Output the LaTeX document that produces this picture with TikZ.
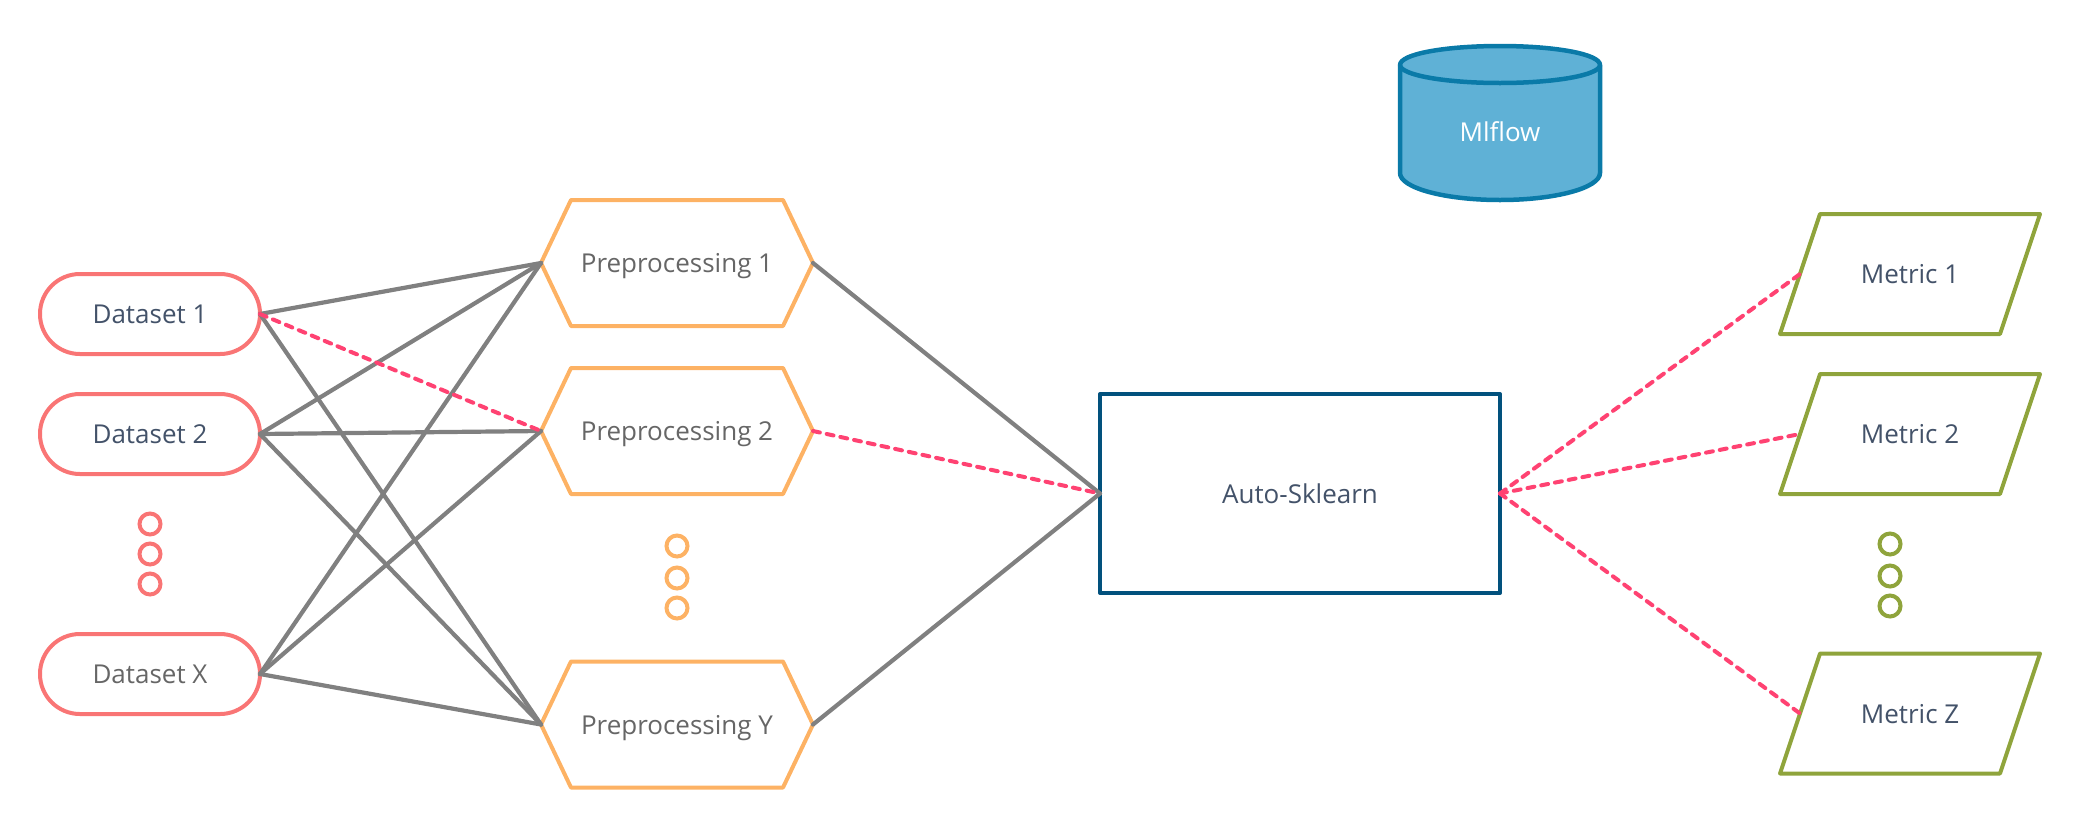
\documentclass[tikz,border=0pt]{standalone}
\usepackage{fontspec}
\setmainfont{Open Sans}
\usetikzlibrary{shapes.symbols}
\definecolor{cred}{HTML}{F97575}
\definecolor{corange}{HTML}{FDB264}
\definecolor{cgreen}{HTML}{8FA43C}
\definecolor{cnavy}{HTML}{02517D}
\definecolor{cblue}{HTML}{0A7AA8}
\definecolor{cbluefill}{HTML}{5FB1D6}
\definecolor{cgray}{HTML}{808080}
\definecolor{cpink}{HTML}{FF4272}
\definecolor{tslate}{HTML}{435269}
\definecolor{tgray}{HTML}{666666}
\tikzset{
  base/.style={line width=4pt,line join=round,inner sep=0pt,outer sep=0pt,font=\fontsize{26}{30}\selectfont,text height=19pt,text depth=0pt,text=tslate},
  databox/.style={base,draw=cred,rectangle,rounded corners=39.9pt,minimum width=220pt,minimum height=80pt},
  prepbox/.style={base,draw=corange,signal,signal to=east and west,signal pointer angle=129.1,minimum width=272pt,minimum height=126pt,text=tgray},
  metricbox/.style={base,rectangle,minimum width=220pt,minimum height=120pt},
  metricline/.style={line width=4pt,line join=round,draw=cgreen},
  mainbox/.style={base,draw=cnavy,rectangle,minimum width=400pt,minimum height=199pt},
  dotbox/.style={circle,line width=4pt,inner sep=0pt,outer sep=0pt,minimum size=21pt,draw=#1},
  solidlink/.style={line width=4.2pt,draw=cgray,line cap=round},
  dashlink/.style={line width=4pt,draw=cpink,line cap=round,dash pattern=on 7pt off 7pt},
}
\begin{document}
\begin{tikzpicture}[x=1pt,y=-1pt]
\useasboundingbox (0,0) rectangle (2080,828);
% cylinder
\filldraw[line width=4.5pt,draw=cblue,fill=cbluefill,line join=round]
  (1400,65) -- (1400,173) .. controls (1400,188) and (1445,200) .. (1500,200)
  .. controls (1555,200) and (1600,188) .. (1600,173) -- (1600,65)
  .. controls (1600,54) and (1555,46) .. (1500,46)
  .. controls (1445,46) and (1400,54) .. (1400,65) -- cycle;
\draw[line width=4.5pt,draw=cblue]
  (1400,65) .. controls (1400,75) and (1445,83) .. (1500,83)
  .. controls (1555,83) and (1600,75) .. (1600,65);
\node[base,text=white] (mlflow) at (1500,132) {Mlflow};
% datasets
\node[databox] (d1) at (150,314) {Dataset 1};
\node[databox] (d2) at (150,434) {Dataset 2};
\node[databox,text=tgray] (dx) at (150,674) {Dataset X};
\node[dotbox=cred] (dr1) at (150,524) {};
\node[dotbox=cred] (dr2) at (150,554) {};
\node[dotbox=cred] (dr3) at (150,584) {};
% preprocessing
\node[prepbox] (p1) at (677,263) {Preprocessing 1};
\node[prepbox] (p2) at (677,431) {Preprocessing 2};
\node[prepbox] (py) at (677,724.5) {Preprocessing Y};
\node[dotbox=corange] (do1) at (677,546) {};
\node[dotbox=corange] (do2) at (677,578) {};
\node[dotbox=corange] (do3) at (677,608) {};
% main
\node[mainbox] (auto) at (1300,493.5) {Auto-Sklearn};
% metrics
\node[metricbox] (m1) at (1910,274) {Metric 1};
\node[metricbox] (m2) at (1910,434) {Metric 2};
\node[metricbox] (mz) at (1910,713.5) {Metric Z};
\foreach \n in {m1,m2,mz}
  \draw[metricline] ([xshift=-20pt]\n.south west) -- ([xshift=20pt]\n.north west)
    -- ([xshift=20pt]\n.north east) -- ([xshift=-20pt]\n.south east) -- cycle;
\node[dotbox=cgreen] (dg1) at (1890,544) {};
\node[dotbox=cgreen] (dg2) at (1890,576) {};
\node[dotbox=cgreen] (dg3) at (1890,606) {};
% connectors
\foreach \a/\b in {d1/p1,d1/py,d2/p1,d2/p2,d2/py,dx/p1,dx/p2,dx/py,p1/auto,py/auto}
  \draw[solidlink] (\a.east) -- (\b.west);
\draw[dashlink] (d1.east) -- (p2.west);
\draw[dashlink] (p2.east) -- (auto.west);
\draw[dashlink] (auto.east) -- (m1.west);
\draw[dashlink] (auto.east) -- (m2.west);
\draw[dashlink] (auto.east) -- (mz.west);
\end{tikzpicture}
\end{document}
